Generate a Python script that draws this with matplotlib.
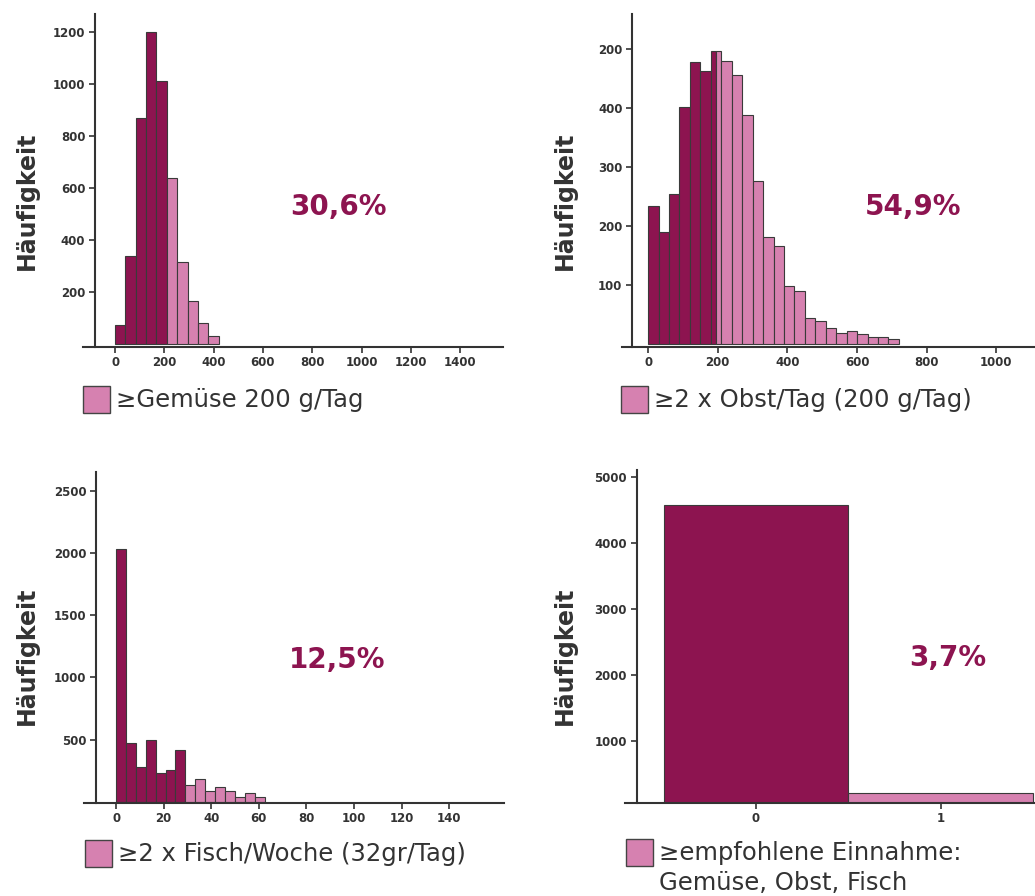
import numpy as np
import matplotlib.pyplot as plt
from matplotlib.patches import Rectangle

# colours
dunkel = '#8d1450'
rosa = '#d681b0'
grau = '#333333'

# --- data ---
# Gemuese: bins of 42 g, first 5 bins below 210 g
gemuese_breite = 42
gemuese_counts = [75, 338, 870, 1200, 1014, 639, 314, 165, 83, 30]
gemuese_grenze = 210

# Obst: bins of 30 g, bin 180-210 split at the threshold
obst_breite = 30
obst_counts = [234, 190, 254, 402, 478, 463, 497, 480, 455, 388, 277, 182,
               167, 98, 90, 44, 40, 27, 20, 23, 17, 13, 12, 9]
obst_grenze = 196

# Fisch: bins of ~4.16 g/Tag
fisch_breite = 4.16
fisch_counts = [2031, 474, 282, 498, 234, 252, 420, 138, 183, 90, 122, 90, 42, 74, 39]
fisch_grenze = 7 * 4.16

# alle drei Empfehlungen erreicht (0 = nein, 1 = ja)
alle_kat = [0, 1]
alle_counts = [4571, 212]

prozente = ['30,6%', '54,9%', '12,5%', '3,7%']
legenden = [['≥Gemüse 200 g/Tag'], ['≥2 x Obst/Tag (200 g/Tag)'],
            ['≥2 x Fisch/Woche (32gr/Tag)'], ['≥empfohlene Einnahme:', 'Gemüse, Obst, Fisch']]

W, H = 1035, 896
fig = plt.figure(figsize=(W / 100, H / 100), dpi=100)


def px(x0, y0, x1, y1):
    return [x0 / W, 1 - y1 / H, (x1 - x0) / W, (y1 - y0) / H]


def stil(ax, frac):
    ax.spines['top'].set_visible(False)
    ax.spines['right'].set_visible(False)
    ax.spines['left'].set_position(('axes', frac))
    for s in ['left', 'bottom']:
        ax.spines[s].set_linewidth(1.5)
        ax.spines[s].set_color(grau)
    ax.tick_params(length=4, width=1.2, color=grau, labelcolor=grau, labelsize=8.5, pad=3)
    for t in ax.get_xticklabels() + ax.get_yticklabels():
        t.set_fontweight('bold')


def histo(ax, counts, breite, grenze):
    kanten = np.arange(len(counts) + 1) * breite
    links = kanten[:-1]
    farben = [dunkel if l < grenze else rosa for l in links]
    ax.bar(links, counts, width=breite, align='edge', color=farben,
           edgecolor='#3a3a3a', linewidth=0.8)


# panel 1
ax1 = fig.add_axes(px(83.3, 14, 502.7, 346.7))
histo(ax1, gemuese_counts, gemuese_breite, gemuese_grenze)
ax1.set_xlim(-129, 1573)
ax1.set_ylim(-10, 1270)
ax1.set_xticks(np.arange(0, 1401, 200))
ax1.set_yticks(np.arange(200, 1201, 200))
stil(ax1, 0.0279)

# panel 2 (threshold splits one bin)
ax2 = fig.add_axes(px(621.7, 14, 1035, 346.7))
kanten = list(np.arange(len(obst_counts) + 1) * obst_breite)
kanten = sorted(kanten + [obst_grenze])
counts2 = []
for i in range(len(kanten) - 1):
    counts2.append(obst_counts[int(kanten[i] // obst_breite)])
links2 = np.array(kanten[:-1])
breiten2 = np.diff(kanten)
ax2.bar(links2, counts2, width=breiten2, align='edge',
        color=[dunkel if l < obst_grenze else rosa for l in links2],
        edgecolor='#3a3a3a', linewidth=0.8)
ax2.set_xlim(-76, 1111)
ax2.set_ylim(-4, 559)
ax2.set_xticks(np.arange(0, 1001, 200))
ax2.set_yticks([100, 200, 300, 400, 500])
ax2.set_yticklabels(['100', '200', '300', '400', '200'])
stil(ax2, 0.0256)

# panel 3
ax3 = fig.add_axes(px(84, 472, 504.3, 802.7))
histo(ax3, fisch_counts, fisch_breite, fisch_grenze)
ax3.set_xlim(-13.5, 163.2)
ax3.set_ylim(-7, 2649)
ax3.set_xticks(np.arange(0, 141, 20))
ax3.set_yticks(np.arange(500, 2501, 500))
stil(ax3, 0.0286)

# panel 4
ax4 = fig.add_axes(px(625, 470, 1035, 802.7))
ax4.bar(alle_kat, alle_counts, width=1, color=[dunkel, rosa],
        edgecolor='#3a3a3a', linewidth=0.8)
ax4.set_xlim(-0.709, 1.51)
ax4.set_ylim(60, 5101)
ax4.set_xticks([0, 1])
ax4.set_yticks(np.arange(1000, 5001, 1000))
stil(ax4, 0.0285)

# y labels
for (x, y) in [(27, 201), (565, 201), (27, 656), (565, 656)]:
    fig.text(x / W, 1 - y / H, 'Häufigkeit', rotation=90, ha='center', va='center',
             fontsize=17, fontweight='bold', color=grau)

# percentages
for txt, (x, y) in zip(prozente, [(338, 207), (913, 207), (337, 660), (948, 658)]):
    fig.text(x / W, 1 - y / H, txt, ha='center', va='center',
             fontsize=20, fontweight='bold', color=dunkel)

# legend boxes
for zeilen, (x, y) in zip(legenden, [(83, 386), (621, 386), (85, 840), (626, 839)]):
    fig.add_artist(Rectangle((x / W, 1 - (y + 27) / H), 27 / W, 27 / H,
                             transform=fig.transFigure, facecolor=rosa,
                             edgecolor='#444444', linewidth=1))
    for k, txt in enumerate(zeilen):
        fig.text((x + 33) / W, 1 - (y + 13.5 + 30 * k) / H, txt, ha='left', va='center',
                 fontsize=17.5, color=grau)

fig.savefig('out.png', dpi=100)
